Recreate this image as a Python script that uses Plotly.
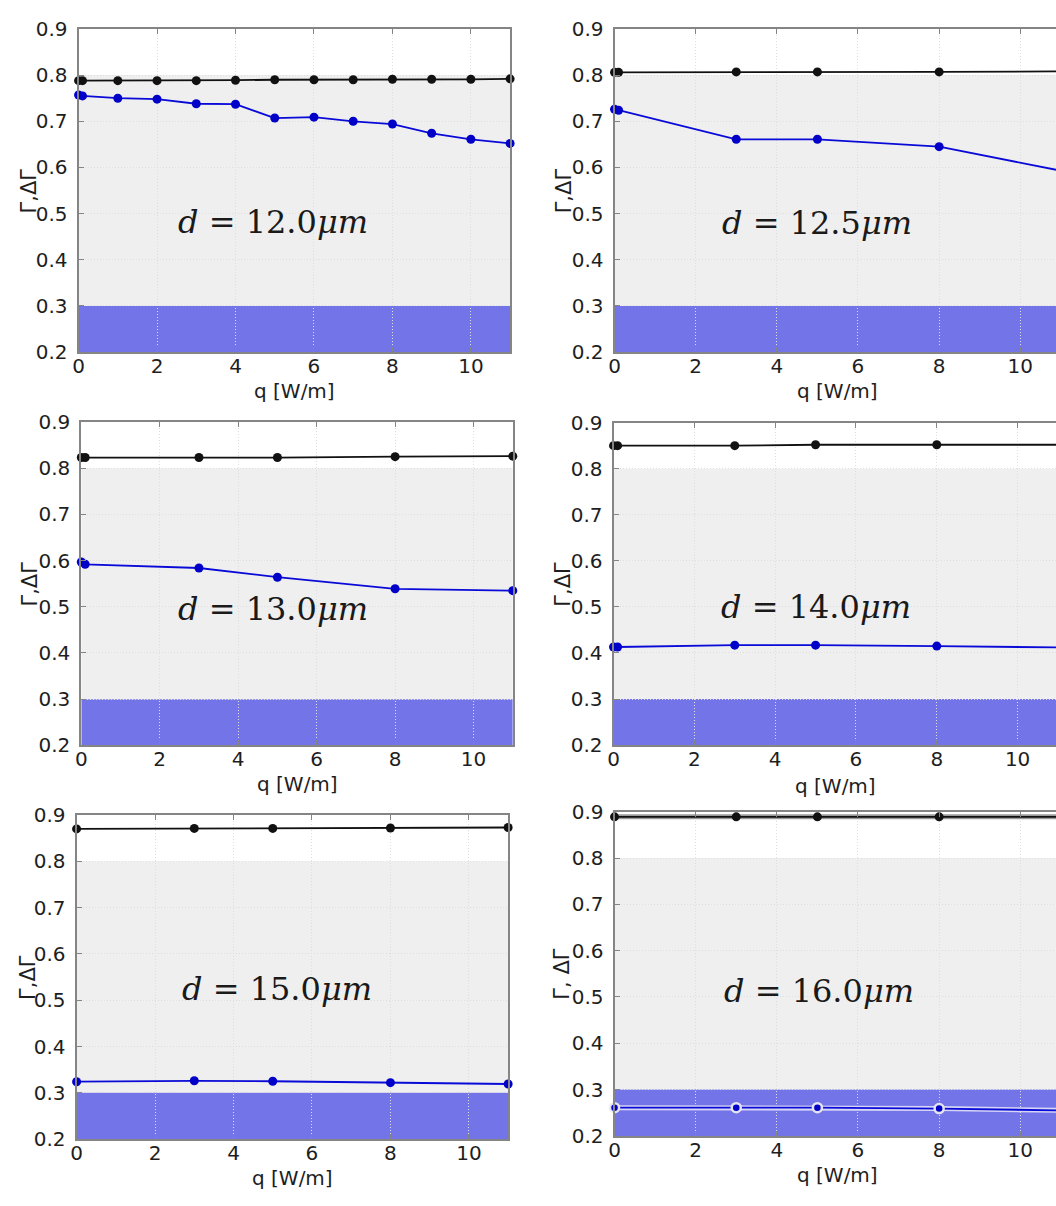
import plotly.graph_objects as go

# ---------------- data ----------------
d_labels = ["12.0", "12.5", "13.0", "14.0", "15.0", "16.0"]

q_12_0 = [0, 0.1, 1, 2, 3, 4, 5, 6, 7, 8, 9, 10, 11]
gamma_12_0 = [0.788, 0.788, 0.788, 0.788, 0.788, 0.789, 0.790, 0.790, 0.790, 0.791, 0.791, 0.791, 0.792]
dgamma_12_0 = [0.757, 0.755, 0.750, 0.748, 0.738, 0.737, 0.707, 0.709, 0.700, 0.694, 0.674, 0.661, 0.652]

q_12_5 = [0, 0.1, 3, 5, 8, 11]
gamma_12_5 = [0.806, 0.806, 0.807, 0.807, 0.807, 0.808]
dgamma_12_5 = [0.726, 0.724, 0.661, 0.661, 0.645, 0.593]

q_13_0 = [0, 0.1, 3, 5, 8, 11]
gamma_13_0 = [0.823, 0.823, 0.823, 0.823, 0.825, 0.826]
dgamma_13_0 = [0.597, 0.592, 0.584, 0.564, 0.539, 0.535]

q_14_0 = [0, 0.1, 3, 5, 8, 11]
gamma_14_0 = [0.850, 0.850, 0.850, 0.852, 0.852, 0.852]
dgamma_14_0 = [0.413, 0.413, 0.417, 0.417, 0.415, 0.412]

q_15_0 = [0, 3, 5, 8, 11]
gamma_15_0 = [0.870, 0.871, 0.871, 0.872, 0.873]
dgamma_15_0 = [0.324, 0.326, 0.325, 0.322, 0.319]

q_16_0 = [0, 3, 5, 8, 11]
gamma_16_0 = [0.889, 0.889, 0.889, 0.889, 0.889]
dgamma_16_0 = [0.261, 0.261, 0.261, 0.259, 0.255]

y_ticks = [0.2, 0.3, 0.4, 0.5, 0.6, 0.7, 0.8, 0.9]
x_ticks = [0, 2, 4, 6, 8, 10]
x_title = "q [W/m]"
y_titles = ["Γ,ΔΓ", "Γ,ΔΓ", "Γ,ΔΓ", "Γ,ΔΓ", "Γ,ΔΓ", "Γ, ΔΓ"]

gray_band = [0.3, 0.8]
blue_band = [0.2, 0.3]

series = [
    (q_12_0, gamma_12_0, dgamma_12_0),
    (q_12_5, gamma_12_5, dgamma_12_5),
    (q_13_0, gamma_13_0, dgamma_13_0),
    (q_14_0, gamma_14_0, dgamma_14_0),
    (q_15_0, gamma_15_0, dgamma_15_0),
    (q_16_0, gamma_16_0, dgamma_16_0),
]

# ---------------- layout geometry ----------------
W, H = 1056, 1206
# pixel boxes: (left, right, top, bottom) and x-range max
boxes = [
    (73, 507, 17.3, 347.0, 11.0),
    (612, 1056, 17.3, 347.0, 10.88),
    (75.7, 509.7, 418.3, 748.3, 11.0),
    (611, 1056, 419.0, 748.0, 10.95),
    (71, 505, 819.3, 1150.0, 11.0),
    (612, 1056, 816.0, 1146.7, 10.88),
]
label_pos = [(4.95, 0.482), (5.0, 0.48), (4.9, 0.496), (5.0, 0.5), (5.1, 0.525), (5.05, 0.512)]
xtitle_y = [387, 387, 788, 790, 1190, 1187]
ytitle_x = [23, 561, 24, 560, 22, 559]

fig = go.Figure()
layout = dict(
    width=W, height=H,
    margin=dict(l=0, r=0, t=0, b=0),
    paper_bgcolor="white",
    plot_bgcolor="white",
    showlegend=False,
    font=dict(family="DejaVu Sans", size=20, color="#1e1e1e"),
)
shapes = []
annotations = []

blue_line = "#0a0ad8"
blue_marker = "#0000c8"
band_blue = "rgb(116,116,233)"
band_gray = "#efefef"
axis_col = "#858585"
grid_col = "#dedede"

for i, ((qq, g, dg), (l, r, t, b, xmax)) in enumerate(zip(series, boxes)):
    k = i + 1
    xa = "x" if k == 1 else f"x{k}"
    ya = "y" if k == 1 else f"y{k}"
    right_col = (i % 2 == 1)

    layout[f"xaxis{k}" if k > 1 else "xaxis"] = dict(
        domain=[l / W, r / W], anchor=ya, range=[0, xmax],
        tickvals=x_ticks, ticks="inside", ticklen=5, tickcolor=axis_col,
        showline=True, linecolor=axis_col, linewidth=2, mirror="ticks",
        showgrid=True, gridcolor=grid_col, griddash="1px,2px", gridwidth=1,
        zeroline=False, tickfont=dict(size=20, color="#1e1e1e"),
        ticklabelstandoff=-5,
    )
    layout[f"yaxis{k}" if k > 1 else "yaxis"] = dict(
        domain=[(H - b) / H, (H - t) / H], anchor=xa, range=[0.2, 0.9],
        tickvals=y_ticks, ticktext=[f"{v:.1f}" for v in y_ticks],
        ticks="inside", ticklen=5, tickcolor=axis_col,
        showline=True, linecolor=axis_col, linewidth=2,
        mirror=(False if right_col else True),
        showgrid=True, gridcolor=grid_col, griddash="1px,2px", gridwidth=1,
        zeroline=False, tickfont=dict(size=20, color="#1e1e1e"),
        ticklabelstandoff=5,
    )

    shapes.append(dict(type="rect", xref=xa, yref=ya, x0=0, x1=11,
                       y0=gray_band[0], y1=gray_band[1], fillcolor=band_gray,
                       line=dict(width=0), layer="below"))
    shapes.append(dict(type="rect", xref=xa, yref=ya, x0=0, x1=11,
                       y0=blue_band[0], y1=blue_band[1], fillcolor=band_blue,
                       line=dict(width=0), layer="below"))

    last = (i == 5)
    if last:
        fig.add_trace(go.Scatter(x=qq, y=g, xaxis=xa, yaxis=ya, mode="lines",
                                 line=dict(color="#9a9a9a", width=5), cliponaxis=False,
                                 hoverinfo="skip"))
        fig.add_trace(go.Scatter(x=qq, y=dg, xaxis=xa, yaxis=ya, mode="lines",
                                 line=dict(color="rgba(225,225,245,0.9)", width=5),
                                 cliponaxis=False, hoverinfo="skip"))
    fig.add_trace(go.Scatter(
        x=qq, y=g, xaxis=xa, yaxis=ya, mode="lines+markers",
        line=dict(color="#111111", width=1.8),
        marker=dict(color="#111111", size=9),
        cliponaxis=False, name=f"Γ d={d_labels[i]}"))
    fig.add_trace(go.Scatter(
        x=qq, y=dg, xaxis=xa, yaxis=ya, mode="lines+markers",
        line=dict(color=blue_line, width=1.8),
        marker=dict(color=blue_marker, size=9,
                    line=dict(color="rgba(235,235,240,0.95)", width=2.5 if last else 0)),
        cliponaxis=False, name=f"ΔΓ d={d_labels[i]}"))

    lx, ly = label_pos[i]
    annotations.append(dict(
        xref=xa, yref=ya, x=lx, y=ly, showarrow=False,
        text=f"<i>d</i> = {d_labels[i]}<i>μm</i>",
        font=dict(family="DejaVu Serif", size=32, color="#1a1a1a"),
        xanchor="center", yanchor="middle"))
    annotations.append(dict(
        xref=xa, yref="paper", x=5.5, y=(H - xtitle_y[i]) / H, showarrow=False,
        text=x_title, font=dict(size=20, color="#1e1e1e"),
        xanchor="center", yanchor="middle"))
    annotations.append(dict(
        xref="paper", yref="paper", x=ytitle_x[i] / W, y=(H - (t + b) / 2) / H,
        showarrow=False, text=y_titles[i], textangle=-90,
        font=dict(size=21, color="#1e1e1e"),
        xanchor="center", yanchor="middle"))

layout["shapes"] = shapes
layout["annotations"] = annotations
fig.update_layout(**layout)
fig.write_html("out.html")
